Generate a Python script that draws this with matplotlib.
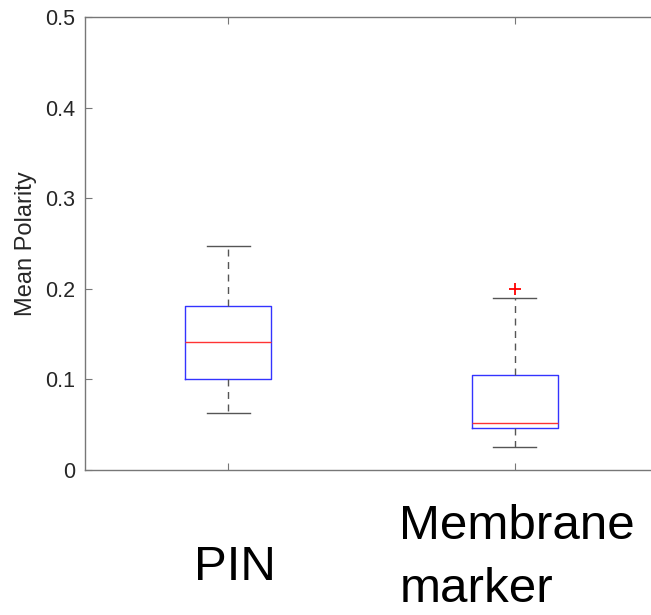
import matplotlib
matplotlib.use("Agg")
import matplotlib.pyplot as plt

# box statistics
groups = ["PIN", "Membrane marker"]
whislo = [0.0625, 0.0255]
q1 = [0.1005, 0.0460]
med = [0.1415, 0.0515]
q3 = [0.1815, 0.1045]
whishi = [0.2475, 0.1895]
fliers = [[], [0.1995]]

yticks = [0, 0.1, 0.2, 0.3, 0.4, 0.5]
ytick_labels = ["0", "0.1", "0.2", "0.3", "0.4", "0.5"]

plt.rcParams["font.family"] = ["Liberation Sans", "DejaVu Sans"]

fig = plt.figure(figsize=(6.51, 6.15), dpi=100)
# right edge of the axes lies just past the picture, as in the original crop
ax = fig.add_axes([0.1306, 0.2358, 0.8909, 0.7366])

stats = []
for i in range(len(groups)):
    stats.append({
        "whislo": whislo[i], "q1": q1[i], "med": med[i], "q3": q3[i],
        "whishi": whishi[i], "fliers": fliers[i], "label": groups[i],
    })

ax.bxp(
    stats, positions=[1, 2], widths=0.3, showfliers=True,
    boxprops=dict(color="#3333ff", linewidth=1.0),
    medianprops=dict(color="#ff3333", linewidth=1.0),
    whiskerprops=dict(color="#555555", linewidth=1.0, linestyle=(0, (5, 4))),
    capprops=dict(color="#555555", linewidth=1.0),
    flierprops=dict(marker="+", markeredgecolor="red", markersize=8, markeredgewidth=1.3),
    capwidths=0.15,
)

ax.set_xlim(0.5, 2.525)
ax.set_ylim(0, 0.5)
ax.set_yticks(yticks)
ax.set_yticklabels(ytick_labels)
ax.set_xticks([1, 2])
ax.set_xticklabels(["", ""])

for s in ax.spines.values():
    s.set_color("#777777")
    s.set_linewidth(1.0)
ax.tick_params(direction="in", length=5, width=0.8, color="#777777",
               top=True, right=True, labelsize=15.5, labelcolor="#262626", pad=7)

ax.set_ylabel("Mean Polarity", fontsize=17, color="#262626", labelpad=6)

# group names drawn below the axis
trans = ax.get_xaxis_transform()
ax.text(1.025, -0.243, groups[0], transform=trans, ha="center", va="baseline",
        fontsize=35.5, color="black")
ax.text(1.598, -0.152, "Membrane", transform=trans, ha="left", va="baseline",
        fontsize=35.5, color="black")
ax.text(1.598, -0.292, "marker", transform=trans, ha="left", va="baseline",
        fontsize=35.5, color="black")

fig.savefig("out.png", dpi=100, facecolor="white")
